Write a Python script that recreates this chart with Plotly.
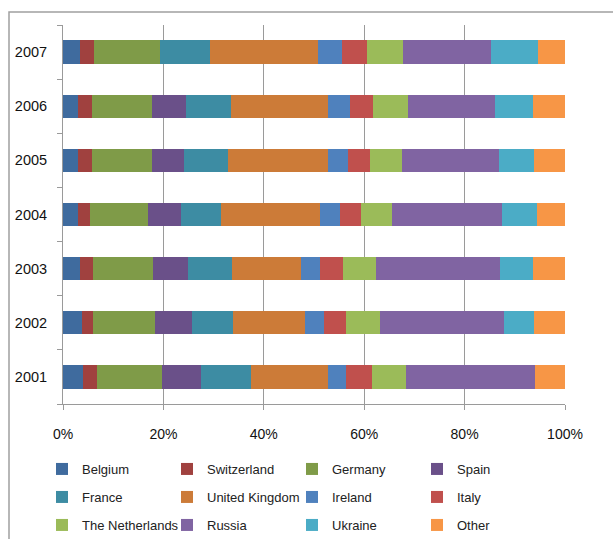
import plotly.graph_objects as go

years = ["2001", "2002", "2003", "2004", "2005", "2006", "2007"]
countries = ["Belgium", "Switzerland", "Germany", "Spain", "France", "United Kingdom",
             "Ireland", "Italy", "The Netherlands", "Russia", "Ukraine", "Other"]

belgium = [3.9, 3.7, 3.3, 3.05, 3.05, 3.05, 3.3]
switzerland = [2.8, 2.2, 2.6, 2.25, 2.65, 2.65, 2.8]
germany = [13.1, 12.35, 11.95, 11.55, 11.95, 12.1, 13.3]
spain = [7.75, 7.35, 6.95, 6.55, 6.4, 6.65, 0.0]
france = [9.95, 8.35, 8.75, 8.15, 8.75, 8.95, 9.8]
united_kingdom = [15.3, 14.35, 13.75, 19.65, 19.9, 19.45, 21.65]
ireland = [3.6, 3.6, 3.85, 4.0, 4.0, 4.4, 4.65]
italy = [5.05, 4.4, 4.5, 4.05, 4.4, 4.45, 5.0]
netherlands = [6.75, 6.75, 6.75, 6.35, 6.35, 6.95, 7.15]
russia = [25.7, 24.7, 24.7, 21.85, 19.35, 17.35, 17.55]
ukraine = [0.0, 6.0, 6.4, 6.85, 6.95, 7.55, 9.35]
other = [6.05, 6.25, 6.45, 5.65, 6.25, 6.45, 5.45]

series = [belgium, switzerland, germany, spain, france, united_kingdom,
          ireland, italy, netherlands, russia, ukraine, other]
colors = ["#3F6B9E", "#A0413F", "#7F9B48", "#6A5089", "#3D8CA3", "#CC7B38",
          "#4F81BD", "#C0504D", "#9BBB59", "#8064A2", "#4BACC6", "#F79646"]
x_ticks = [0, 20, 40, 60, 80, 100]
x_tick_labels = ["0%", "20%", "40%", "60%", "80%", "100%"]

W, H = 613, 539
ml, mr, mt, mb = 63, 48, 25, 135
pw, ph = W - ml - mr, H - mt - mb

def px_x(px):
    return (px - ml) / pw

def px_y(py):
    return (H - mb - py) / ph

fig = go.Figure()
legend_names = ["legend", "legend2", "legend3"]
for i, (name, vals, col) in enumerate(zip(countries, series, colors)):
    fig.add_trace(go.Bar(
        y=years, x=vals, name=name, orientation="h",
        marker=dict(color=col, line=dict(width=0)),
        legend=legend_names[i // 4],
    ))

grey = "#9A9A9A"
legend_common = dict(
    orientation="h", xanchor="left", yanchor="middle", traceorder="normal",
    entrywidth=80, entrywidthmode="pixels",
    font=dict(family="Liberation Sans, Arial, sans-serif", size=13, color="#222222"),
    bgcolor="rgba(0,0,0,0)", itemclick=False, itemdoubleclick=False,
)
fig.update_layout(
    width=W, height=H,
    margin=dict(l=ml, r=mr, t=mt, b=mb, autoexpand=False),
    paper_bgcolor="white", plot_bgcolor="white",
    barmode="stack", barnorm="percent", bargap=0.57,
    font=dict(family="Liberation Sans, Arial, sans-serif", size=14, color="#111111"),
    xaxis=dict(range=[0, 100], tickmode="array", tickvals=x_ticks, ticktext=x_tick_labels,
               showgrid=True, gridcolor=grey, gridwidth=1,
               showline=True, linecolor=grey, linewidth=1,
               ticks="outside", ticklen=5, tickcolor=grey,
               ticklabelstandoff=12, zeroline=False, fixedrange=True, automargin=False),
    yaxis=dict(type="category", categoryorder="array", categoryarray=years,
               showgrid=False, showline=True, linecolor=grey, linewidth=1,
               ticks="outside", ticklen=5, tickcolor=grey, tickson="boundaries",
               ticklabelstandoff=12, fixedrange=True, automargin=False,
               tickfont=dict(size=14.5)),
    legend=dict(legend_common, x=px_x(42), y=px_y(469)),
    legend2=dict(legend_common, x=px_x(42), y=px_y(497)),
    legend3=dict(legend_common, x=px_x(42), y=px_y(525)),
    showlegend=True,
    shapes=[dict(type="rect", xref="paper", yref="paper",
                 x0=px_x(9), y0=px_y(560), x1=px_x(640), y1=px_y(12),
                 line=dict(color="#A0A0A0", width=1.5), layer="below")],
)

fig.write_html("out.html", config={"displayModeBar": False},
               post_script="document.body.style.margin='0px';document.body.style.overflow='hidden';")
